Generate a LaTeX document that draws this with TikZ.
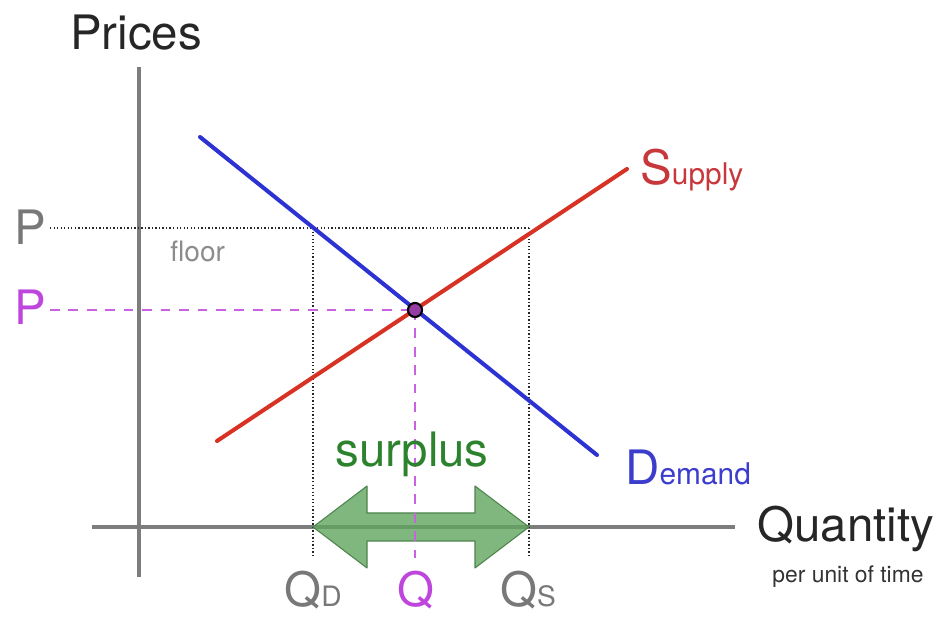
\documentclass[tikz,border=0pt]{standalone}
\usepackage{fontspec}
\setmainfont{TeX Gyre Heros}
\usepackage{xcolor}
\definecolor{axisgray}{RGB}{125,125,125}
\definecolor{labelgray}{RGB}{120,120,120}
\definecolor{demandblue}{RGB}{45,50,210}
\definecolor{demandtext}{RGB}{60,60,205}
\definecolor{supplyred}{RGB}{215,50,35}
\definecolor{supplytext}{RGB}{200,55,60}
\definecolor{eqpurple}{RGB}{190,70,220}
\definecolor{dotpurple}{RGB}{150,60,165}
\definecolor{surplusgreen}{RGB}{45,130,45}
\definecolor{arrowgreen}{RGB}{95,165,95}
\usetikzlibrary{positioning,calc}
\newcommand{\bigtxt}{\fontsize{27}{30}\selectfont}
\newcommand{\midtxt}{\fontsize{17}{20}\selectfont}
\newcommand{\smalltxt}{\fontsize{16}{19}\selectfont}
\newcommand{\tinytxt}{\fontsize{13}{16}\selectfont}

\begin{document}
\begin{tikzpicture}[
  x=0.02cm, y=-0.02cm,
  axis/.style={draw=axisgray,line width=2.4pt},
  curve/.style={line width=2.3pt,line cap=round},
  guide/.style={draw=black!85,line width=1pt,dash pattern=on 0.8pt off 1.2pt},
  eqguide/.style={draw=eqpurple!85,line width=1.1pt,dash pattern=on 5.5pt off 5pt},
  lbl/.style={inner sep=0pt,anchor=base},
  surplusarrow/.style={fill=arrowgreen,fill opacity=0.8,draw=arrowgreen!80!black,
                       line width=0.6pt,line join=round},
]
\useasboundingbox (0,0) rectangle (941,621);
% axes
\coordinate (ytop)   at (139,67);
\coordinate (ybot)   at (139,577);
\coordinate (xleft)  at (92,527);
\coordinate (xright) at (735,527);
\draw[axis] (ytop) -- (ybot);
\draw[axis] (xleft) -- (xright);
% price floor guides
\coordinate (pf)  at (50,228);
\coordinate (qd)  at (313,228);
\coordinate (qs)  at (529,228);
\coordinate (qdb) at (313,558);
\coordinate (qsb) at (529,558);
\draw[guide] (pf) -- (qs);
\draw[guide] (qd) -- (qdb);
\draw[guide] (qs) -- (qsb);
% surplus arrow
\coordinate (arrL) at (qdb |- xleft);
\draw[surplusarrow] (arrL) -- ++(54,-41) -- ++(0,27) -- ++(108,0) -- ++(0,-27)
  -- ++(54,41) -- ++(-54,41) -- ++(0,-27) -- ++(-108,0) -- ++(0,27) -- cycle;
% demand and supply
\coordinate (d1) at (200,137);
\coordinate (d2) at (597,455);
\coordinate (s1) at (217,441);
\coordinate (s2) at (627,169);
\coordinate (eq) at (415,310);
\draw[curve,demandblue] (d1) -- (d2);
\draw[curve,supplyred] (s1) -- (s2);
% equilibrium guides
\coordinate (pe)  at (50,310);
\coordinate (qeb) at (415,558);
\draw[eqguide] (pe) -- (eq);
\draw[eqguide] (eq) -- (qeb);
\draw[fill=dotpurple,draw=black,line width=1.2pt] (eq) circle (4pt);
% labels
\node[lbl,font=\bigtxt,text=black!85] (prices) at (136,50) {Prices};
\node[lbl,anchor=base west,font=\bigtxt,text=labelgray] (pflbl) at (14,245) {P};
\node[lbl,anchor=base west,font=\bigtxt,text=eqpurple] (pelbl) at (14,325) {P};
\node[lbl,anchor=base west,font=\smalltxt,text=labelgray!85] (floor) at (170,262) {floor};
\node[lbl,font=\bigtxt,text=labelgray] (qdlbl) at (313,607) {Q{\smalltxt D}};
\node[lbl,font=\bigtxt,text=eqpurple] (qlbl) at (416,607) {Q};
\node[lbl,font=\bigtxt,text=labelgray] (qslbl) at (528,607) {Q{\smalltxt S}};
\node[lbl,anchor=base west,font=\bigtxt,text=supplytext] (slbl) at (640,185) {S{\midtxt upply}};
\node[lbl,anchor=base west,font=\bigtxt,text=demandtext] (dlbl) at (625,485) {D{\midtxt emand}};
\node[lbl,anchor=base west,font=\bigtxt,text=black!85] (qty) at (757,542) {Quantity};
\node[lbl,font=\tinytxt,text=black!80] (per) at (848,583) {per unit of time};
\node[lbl,font=\bigtxt,text=surplusgreen] (surplus) at (412,467) {surplus};
\end{tikzpicture}
\end{document}
